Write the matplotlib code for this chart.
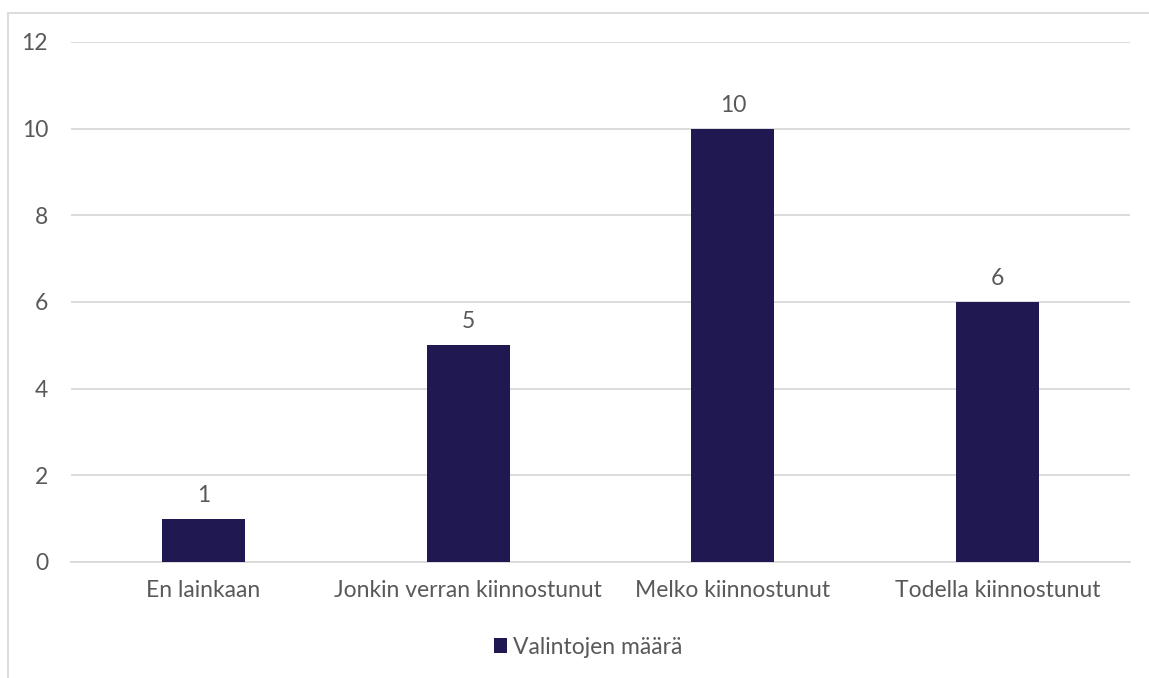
import matplotlib.pyplot as plt
from matplotlib.patches import Rectangle

categories = ["En lainkaan", "Jonkin verran kiinnostunut", "Melko kiinnostunut", "Todella kiinnostunut"]
values = [1, 5, 10, 6]
series_name = "Valintojen määrä"
yticks = [0, 2, 4, 6, 8, 10, 12]

bar_color = "#201850"
text_color = "#595959"
grid_color = "#d9d9d9"

plt.rcParams["font.family"] = ["Lato", "DejaVu Sans"]
fs = 16.5

fig = plt.figure(figsize=(11.49, 6.78), dpi=100)
ax = fig.add_axes([71 / 1149, 1 - 562 / 678, (1130 - 71) / 1149, (562 - 42) / 678])

x = list(range(len(categories)))
ax.bar(x, values, width=0.313, color=bar_color, zorder=3, label=series_name)
for xi, v in zip(x, values):
    ax.text(xi, v + 0.3, str(v), ha="center", va="bottom", fontsize=fs, color=text_color)

ax.set_xlim(-0.5, len(categories) - 0.5)
ax.set_ylim(0, 12)
ax.set_yticks(yticks)
ax.set_xticks(x)
ax.set_xticklabels(categories)
ax.tick_params(axis="both", length=0, labelsize=fs, labelcolor=text_color)
ax.tick_params(axis="y", pad=16.5)
ax.tick_params(axis="x", pad=13)
ax.yaxis.grid(True, color=grid_color, linewidth=1.3, zorder=0)
for s in ["top", "right", "left"]:
    ax.spines[s].set_visible(False)
ax.spines["bottom"].set_color(grid_color)
ax.spines["bottom"].set_linewidth(1.3)

leg = fig.legend(loc="center", bbox_to_anchor=(588 / 1149, 1 - 647 / 678), frameon=False,
                 fontsize=fs, handlelength=0.6, handleheight=0.6, handletextpad=0.25)
for t in leg.get_texts():
    t.set_color(text_color)

# chart frame, only left and top edges visible in the crop
fig.add_artist(Rectangle((7.5 / 1149, -0.1), 1.2, 1 - 12.5 / 678 + 0.1, transform=fig.transFigure,
                         fill=False, edgecolor=grid_color, linewidth=1.3))

fig.savefig("out.png", dpi=100)
